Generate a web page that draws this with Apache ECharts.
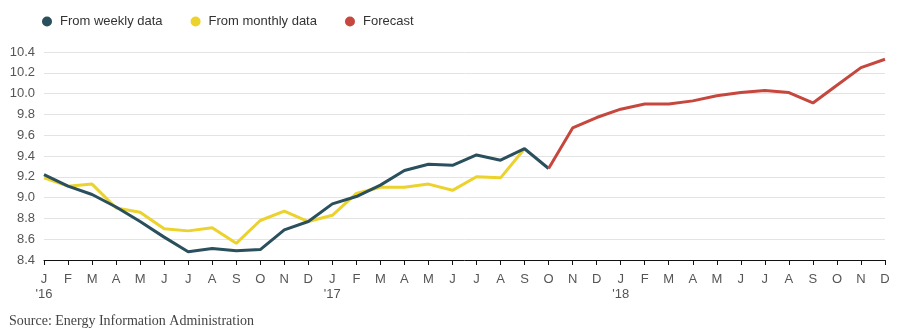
<!DOCTYPE html>
<html>
<head>
<meta charset="utf-8">
<script src="https://cdn.jsdelivr.net/npm/echarts@6/dist/echarts.min.js"></script>
<style>
  html, body { margin: 0; padding: 0; background: #fff; }
  #chart { width: 911px; height: 331px; }
</style>
</head>
<body>
<div id="chart"></div>
<script>
// Month initials, Jan 2016 through Dec 2018
const months = ['J','F','M','A','M','J','J','A','S','O','N','D',
                'J','F','M','A','M','J','J','A','S','O','N','D',
                'J','F','M','A','M','J','J','A','S','O','N','D'];
// Year marker shown under each January
const yearLabels = { 0: "'16", 12: "'17", 24: "'18" };

// Weekly-data series, Jan 2016 – Oct 2017
const weeklyValues = [9.22, 9.11, 9.03, 8.91, 8.77, 8.62, 8.48, 8.51, 8.49, 8.50, 8.69, 8.77,
                      8.94, 9.01, 9.12, 9.26, 9.32, 9.31, 9.41, 9.36, 9.47, 9.28];
// Monthly-data series, Jan 2016 – Sep 2017
const monthlyValues = [9.19, 9.11, 9.13, 8.90, 8.86, 8.70, 8.68, 8.71, 8.56, 8.78, 8.87, 8.77,
                       8.83, 9.04, 9.10, 9.10, 9.13, 9.07, 9.20, 9.19, 9.47];
// Forecast series, Oct 2017 – Dec 2018
const forecastStart = 21;
const forecastValues = [9.28, 9.67, 9.77, 9.85, 9.90, 9.90, 9.93, 9.98, 10.01, 10.03,
                        10.01, 9.91, 10.08, 10.25, 10.33];

const yTicks = { min: 8.4, max: 10.4, step: 0.2 };

const pad = (arr, start) => {
  const out = new Array(months.length).fill(null);
  arr.forEach((v, i) => { out[start + i] = v; });
  return out;
};

const chart = echarts.init(document.getElementById('chart'));
chart.setOption({
  animation: false,
  backgroundColor: '#ffffff',
  grid: { left: 44, right: 26, top: 52, bottom: 71 },
  legend: {
    left: 37, top: 10,
    icon: 'circle',
    itemWidth: 10, itemHeight: 10,
    itemGap: 28,
    textStyle: { fontFamily: 'Liberation Sans, Arial, sans-serif', fontSize: 13, color: '#333', padding: [0, 0, 0, 3] },
    data: ['From weekly data', 'From monthly data', 'Forecast']
  },
  xAxis: {
    type: 'category',
    data: months,
    boundaryGap: false,
    axisLine: { show: true, lineStyle: { color: '#111', width: 1 } },
    axisTick: { show: true, length: 5, alignWithLabel: true, interval: 0, lineStyle: { color: '#111' } },
    axisLabel: {
      interval: 0,
      margin: 12,
      color: '#555',
      fontFamily: 'Liberation Sans, Arial, sans-serif',
      fontSize: 13,
      lineHeight: 15,
      formatter: (val, idx) => yearLabels[idx] ? val + '\n' + yearLabels[idx] : val
    },
    splitLine: { show: false }
  },
  yAxis: {
    type: 'value',
    min: yTicks.min, max: yTicks.max, interval: yTicks.step,
    axisLine: { show: false },
    axisTick: { show: false },
    axisLabel: {
      margin: 9,
      color: '#555',
      fontFamily: 'Liberation Sans, Arial, sans-serif',
      fontSize: 13,
      formatter: v => v.toFixed(1)
    },
    splitLine: { lineStyle: { color: '#e3e3e3', width: 1 } }
  },
  series: [
    {
      name: 'From monthly data', type: 'line', data: pad(monthlyValues, 0),
      showSymbol: false, symbol: 'circle', color: '#ecd22c',
      lineStyle: { width: 3, color: '#ecd22c' }, z: 2
    },
    {
      name: 'From weekly data', type: 'line', data: pad(weeklyValues, 0),
      showSymbol: false, symbol: 'circle', color: '#2a4f5d',
      lineStyle: { width: 3, color: '#2a4f5d' }, z: 3
    },
    {
      name: 'Forecast', type: 'line', data: pad(forecastValues, forecastStart),
      showSymbol: false, symbol: 'circle', color: '#c6473e',
      lineStyle: { width: 3, color: '#c6473e' }, z: 3
    }
  ],
  graphic: [{
    type: 'text', left: 9, top: 314,
    style: {
      text: 'Source: Energy Information Administration',
      fill: '#444', fontFamily: 'Liberation Serif, Georgia, serif', fontSize: 14
    }
  }]
});
</script>
</body>
</html>
